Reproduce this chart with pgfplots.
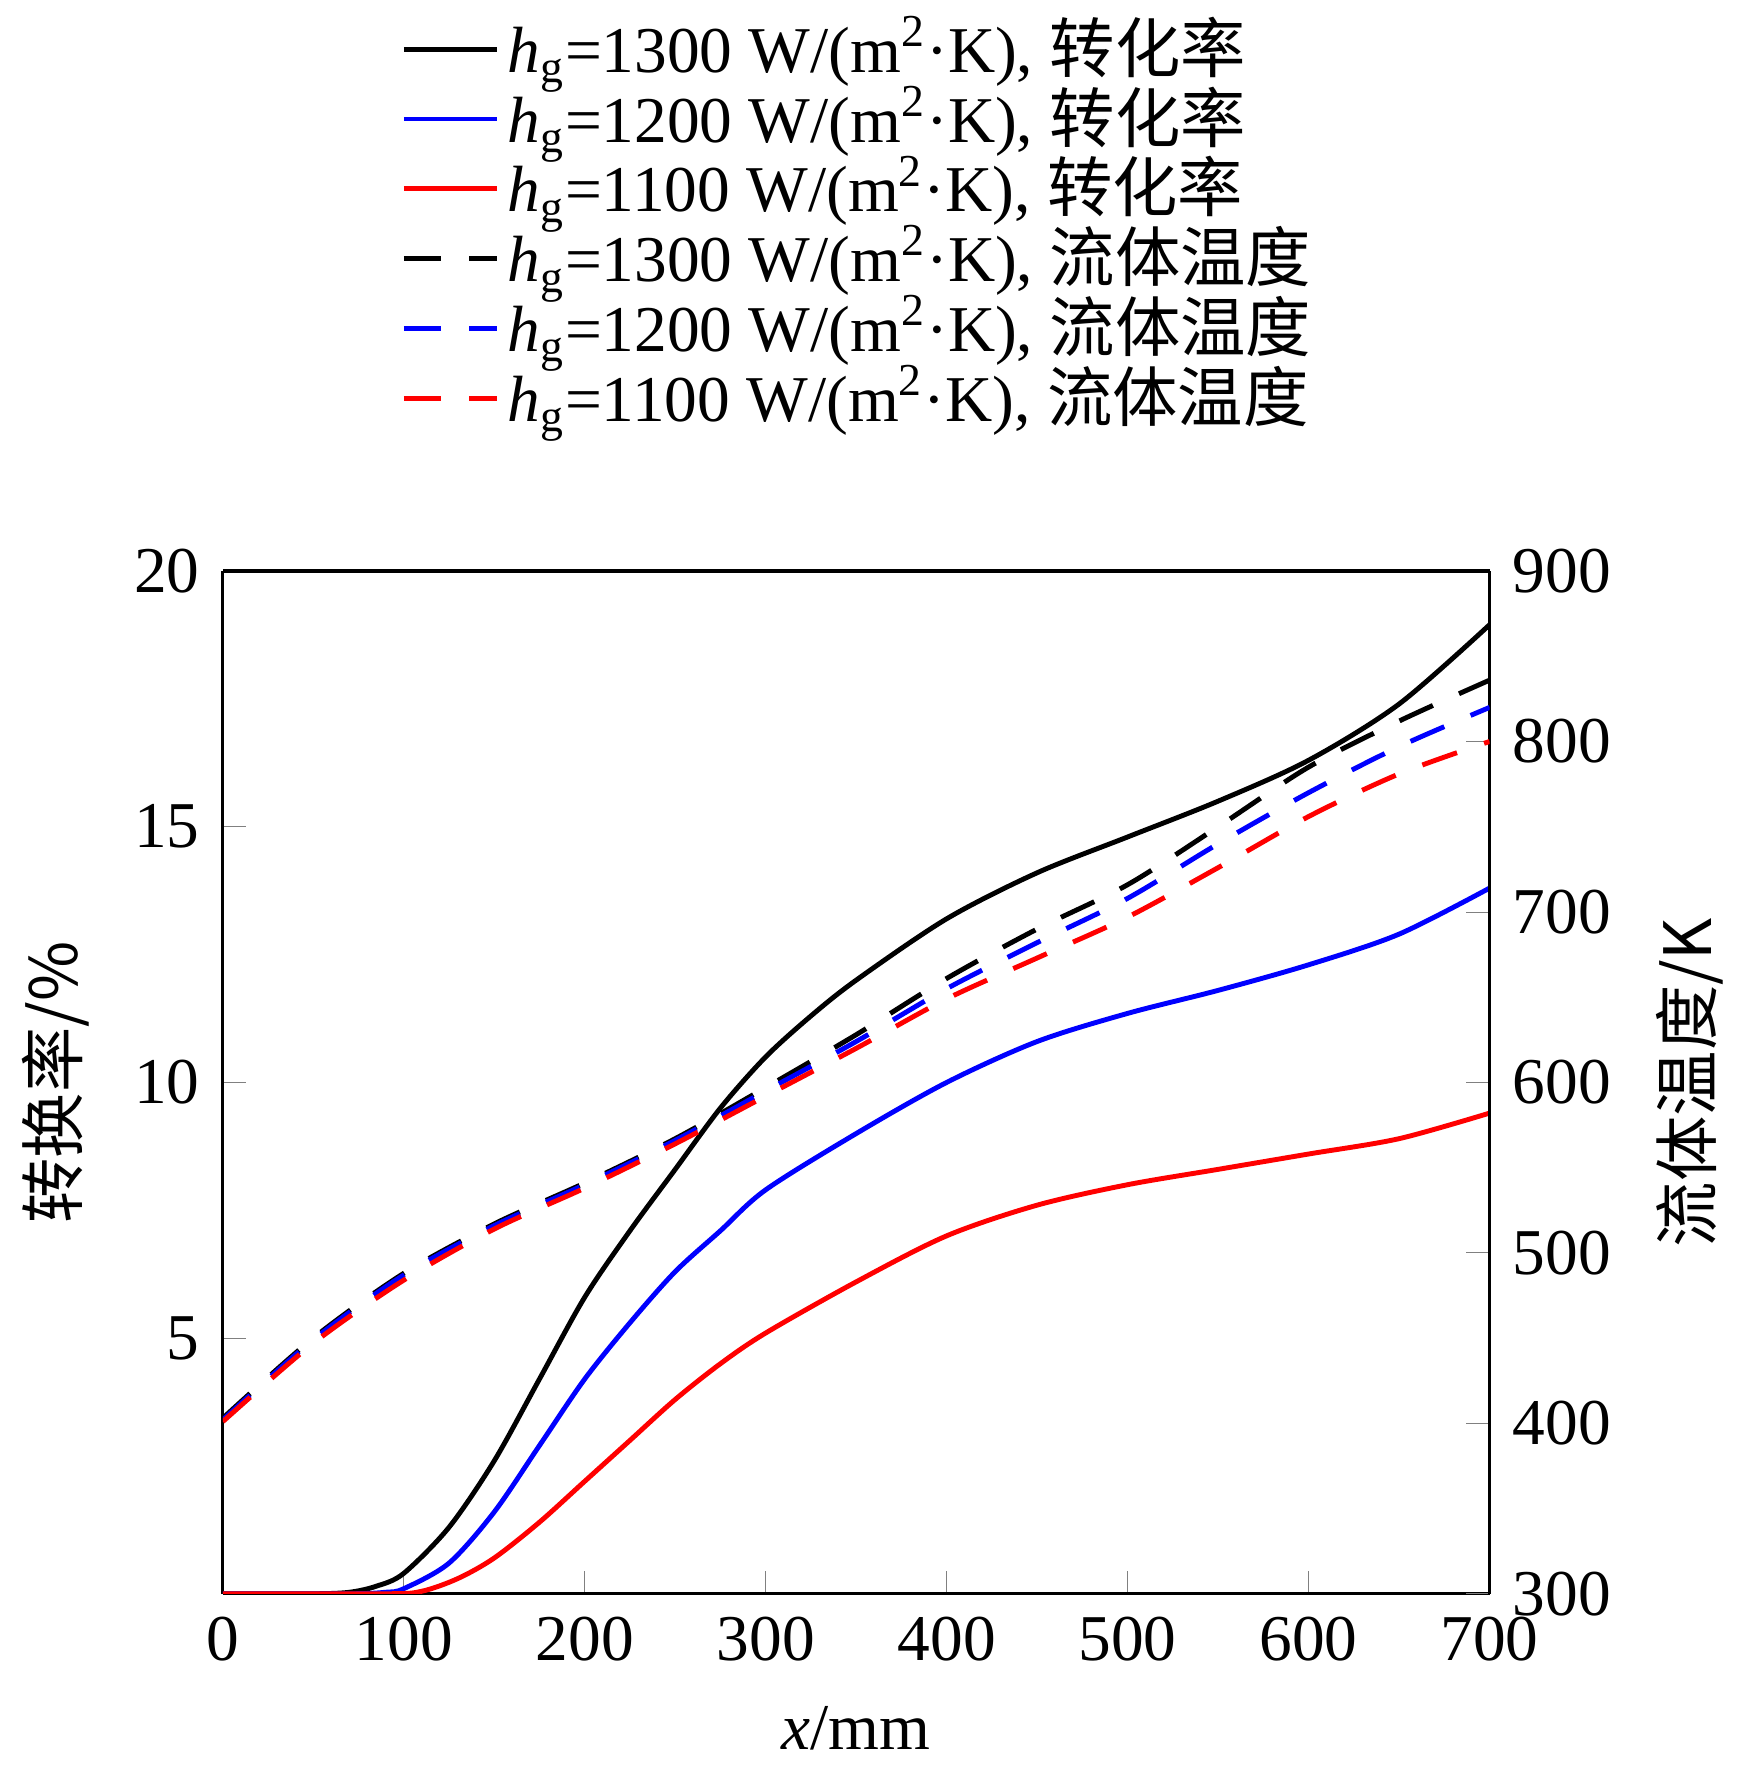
\documentclass[border=0pt]{standalone}
\usepackage{pgfplots}
\pgfplotsset{compat=1.18}
\usepackage{fontspec}
\setmainfont{Liberation Serif}
\newfontfamily\cjk{Noto Sans CJK SC}
\begin{document}
\fontsize{16}{18}\selectfont
\begin{tikzpicture}
\pgfplotsset{every axis/.append style={scale only axis,width=10.9cm,height=8.8cm,xmin=0,xmax=700,
 tick align=inside,/pgf/number format/assume math mode=true,
 tick label style={font=\fontsize{16}{18}\selectfont},label style={font=\fontsize{16}{18}\selectfont},
 major tick length=0.2cm,line width=0.8pt}}
\begin{axis}[axis y line*=left,axis x line*=bottom,ymin=0,ymax=20,ytick={5,10,15,20},
 xtick={0,100,...,700},xlabel={\textit{x}/mm},ylabel={\cjk 转换率/\%},
 every axis plot/.append style={line width=1.2pt}]
\addplot[black,smooth] coordinates {(0,0)(50,0)(70,0.03)(85,0.15)(100,0.4)(125,1.3)(150,2.6)(175,4.2)(200,5.8)(225,7.1)(250,8.3)(275,9.5)(300,10.5)(325,11.3)(350,12.0)(400,13.2)(450,14.1)(500,14.8)(550,15.5)(600,16.3)(650,17.4)(700,18.95)};
\addplot[blue,smooth] coordinates {(0,0)(70,0)(90,0.03)(100,0.1)(125,0.6)(150,1.6)(175,2.9)(200,4.2)(225,5.3)(250,6.3)(275,7.1)(300,7.9)(350,9.0)(400,10.0)(450,10.8)(500,11.35)(550,11.8)(600,12.3)(650,12.9)(700,13.8)};
\addplot[red,smooth] coordinates {(0,0)(90,0)(110,0.05)(130,0.3)(150,0.7)(175,1.4)(200,2.2)(225,3.0)(250,3.8)(275,4.5)(300,5.1)(350,6.1)(400,7.0)(450,7.6)(500,8.0)(550,8.3)(600,8.6)(650,8.9)(700,9.4)};
\end{axis}
\begin{axis}[axis y line*=right,axis x line*=top,xtick=\empty,ymin=300,ymax=900,ytick={300,400,...,900},
 ylabel={\cjk 流体温度/K},
 every axis plot/.append style={line width=1.2pt,dash pattern=on 9pt off 7pt},
 legend style={draw=none,fill=none,at={(0.13,1.56)},anchor=north west,row sep=-3pt,font=\fontsize{16}{18}\selectfont},
 legend cell align=left,
 legend image code/.code={\draw[#1,line width=1.2pt] (0cm,0cm) -- (0.8cm,0cm);}]
\addlegendimage{black,solid}
\addlegendentry{\textit{h}\textsubscript{g}=1300 W/(m\textsuperscript{2}·K), {\cjk 转化率}}
\addlegendimage{blue,solid}
\addlegendentry{\textit{h}\textsubscript{g}=1200 W/(m\textsuperscript{2}·K), {\cjk 转化率}}
\addlegendimage{red,solid}
\addlegendentry{\textit{h}\textsubscript{g}=1100 W/(m\textsuperscript{2}·K), {\cjk 转化率}}
\addplot[black,smooth] coordinates {(0,403)(50,450)(100,488)(150,517)(200,541)(250,567)(300,597)(350,628)(400,661)(450,690)(500,716)(550,750)(600,785)(650,812)(700,836)};
\addlegendentry{\textit{h}\textsubscript{g}=1300 W/(m\textsuperscript{2}·K), {\cjk 流体温度}}
\addplot[blue,smooth] coordinates {(0,402)(50,449)(100,487)(150,516)(200,540)(250,566)(300,595)(350,624)(400,655)(450,682)(500,708)(550,740)(600,770)(650,797)(700,820)};
\addlegendentry{\textit{h}\textsubscript{g}=1200 W/(m\textsuperscript{2}·K), {\cjk 流体温度}}
\addplot[red,smooth] coordinates {(0,401)(50,447)(100,484)(150,514)(200,538)(250,564)(300,592)(350,620)(400,649)(450,673)(500,697)(550,726)(600,756)(650,781)(700,800)};
\addlegendentry{\textit{h}\textsubscript{g}=1100 W/(m\textsuperscript{2}·K), {\cjk 流体温度}}
\end{axis}
\end{tikzpicture}
\end{document}
